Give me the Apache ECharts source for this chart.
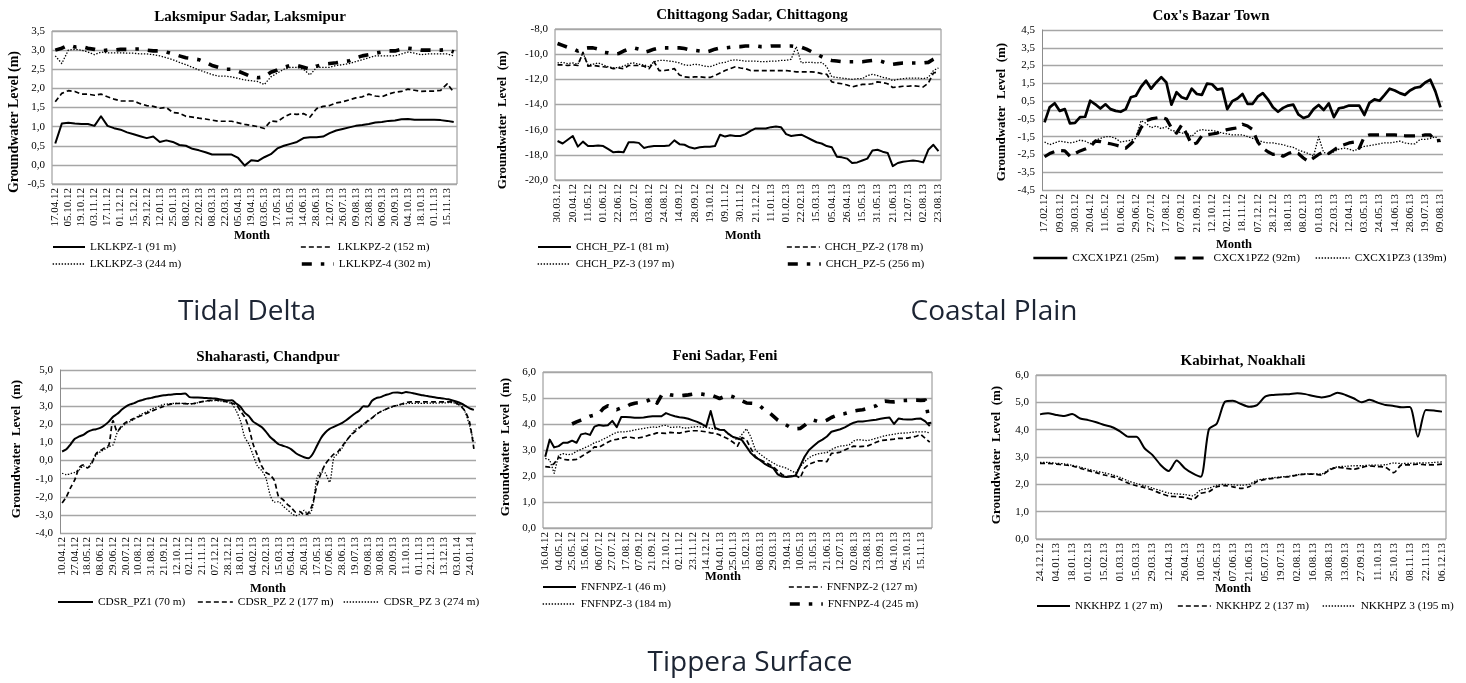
<!DOCTYPE html>
<html><head><meta charset="utf-8">
<script src="https://cdn.jsdelivr.net/npm/echarts@6/dist/echarts.min.js"></script>
<style>html,body{margin:0;padding:0;background:#fff}#c{width:1466px;height:683px}</style>
</head><body><div id="c"></div>
<script>
// ---------- Laksmipur Sadar, Laksmipur ----------
const lkTicks = ['17.04.12','05.10.12','19.10.12','03.11.12','17.11.12','01.12.12','15.12.12','29.12.12','12.01.13','25.01.13','08.02.13','22.02.13','08.03.13','22.03.13','05.04.13','19.04.13','03.05.13','17.05.13','31.05.13','14.06.13','28.06.13','12.07.13','26.07.13','09.08.13','23.08.13','06.09.13','20.09.13','04.10.13','18.10.13','01.11.13','15.11.13'];
const lk1 = [0.56,1.08,1.1,1.08,1.07,1.07,1.02,1.27,1.02,0.96, 0.92,0.85,0.8,0.75,0.7,0.74,0.6,0.64,0.6,0.52, 0.5,0.42,0.38,0.33,0.27,0.27,0.27,0.27,0.18,-0.02, 0.12,0.1,0.2,0.28,0.43,0.5,0.55,0.6,0.7,0.72, 0.72,0.74,0.83,0.9,0.94,0.98,1.02,1.04,1.07,1.11, 1.12,1.15,1.16,1.19,1.2,1.18,1.18,1.18,1.18,1.17, 1.15,1.12];
const lk2 = [1.65,1.87,1.94,1.92,1.85,1.85,1.82,1.85,1.78,1.72, 1.67,1.67,1.67,1.6,1.55,1.53,1.48,1.5,1.37,1.35, 1.27,1.25,1.22,1.2,1.17,1.14,1.14,1.14,1.1,1.06, 1.03,1.0,0.95,1.15,1.13,1.25,1.33,1.32,1.34,1.25, 1.47,1.53,1.55,1.62,1.65,1.7,1.75,1.78,1.85,1.8, 1.78,1.85,1.9,1.92,1.98,1.95,1.92,1.93,1.93,1.95, 2.12,1.9];
const lk3 = [2.85,2.65,3.0,3.02,3.0,2.95,2.88,2.95,2.93,2.93, 2.93,2.92,2.92,2.9,2.9,2.88,2.85,2.8,2.75,2.68, 2.62,2.55,2.48,2.42,2.36,2.32,2.32,2.3,2.26,2.22, 2.2,2.18,2.1,2.3,2.4,2.5,2.55,2.55,2.5,2.35, 2.55,2.55,2.55,2.6,2.62,2.65,2.7,2.75,2.8,2.85, 2.85,2.85,2.85,2.9,2.95,2.92,2.88,2.9,2.9,2.9, 2.9,2.85];
const lk4 = [3.0,3.05,3.13,3.08,3.1,3.05,3.02,2.98,3.0,3.0, 3.02,3.02,3.03,3.03,3.0,2.98,2.98,2.95,2.9,2.85, 2.8,2.78,2.75,2.68,2.6,2.55,2.5,2.5,2.45,2.38, 2.3,2.28,2.3,2.42,2.48,2.55,2.6,2.6,2.55,2.5, 2.58,2.63,2.65,2.67,2.7,2.72,2.8,2.85,2.88,2.92, 2.95,2.98,2.98,3.02,3.05,3.03,3.0,3.0,3.0,3.0, 3.02,2.95];

// ---------- Chittagong Sadar, Chittagong ----------
const chTicks = ['30.03.12','20.04.12','11.05.12','01.06.12','22.06.12','13.07.12','03.08.12','24.08.12','14.09.12','28.09.12','19.10.12','09.11.12','30.11.12','21.12.12','11.01.13','01.02.13','22.02.13','15.03.13','05.04.13','26.04.13','15.05.13','31.05.13','21.06.13','12.07.13','02.08.13','23.08.13'];
const ch1 = [-16.9,-17.1,-16.8,-16.5,-17.35,-16.95,-17.3,-17.3,-17.25,-17.3, -17.55,-17.8,-17.75,-17.8,-17.0,-17.0,-17.05,-17.45,-17.35,-17.3, -17.3,-17.3,-17.25,-16.85,-17.15,-17.2,-17.4,-17.5,-17.4,-17.35, -17.35,-17.3,-16.4,-16.55,-16.45,-16.5,-16.5,-16.35,-16.1,-15.9, -15.9,-15.9,-15.8,-15.75,-15.8,-16.35,-16.5,-16.45,-16.4,-16.6, -16.8,-17.0,-17.1,-17.3,-17.4,-18.15,-18.2,-18.3,-18.65,-18.6, -18.45,-18.3,-17.65,-17.6,-17.75,-17.85,-18.9,-18.65,-18.55,-18.5, -18.45,-18.5,-18.6,-17.6,-17.2,-17.7];
const ch2 = [-10.85,-10.85,-10.9,-10.85,-10.9,-9.85,-10.95,-10.9,-10.95,-11.0, -11.05,-11.15,-11.1,-11.15,-10.9,-10.9,-10.9,-10.95,-11.15,-10.6, -11.3,-11.3,-11.25,-11.15,-11.65,-11.8,-11.85,-11.8,-11.8,-11.85, -11.85,-11.7,-11.5,-11.3,-11.15,-11.0,-11.1,-11.15,-11.3,-11.3, -11.3,-11.3,-11.3,-11.3,-11.3,-11.3,-11.35,-11.4,-11.4,-11.4, -11.4,-11.45,-11.55,-11.6,-12.2,-12.3,-12.35,-12.45,-12.6,-12.5, -12.4,-12.4,-12.35,-12.2,-12.25,-12.35,-12.65,-12.6,-12.55,-12.55, -12.5,-12.55,-12.6,-12.3,-11.5,-11.4];
const ch3 = [-10.7,-10.65,-10.75,-10.7,-10.8,-9.9,-10.85,-10.8,-10.7,-10.85, -11.0,-11.1,-11.05,-10.95,-10.75,-10.7,-10.8,-10.85,-11.0,-10.6, -10.5,-10.5,-10.55,-10.6,-10.7,-10.85,-10.9,-10.8,-10.85,-10.95, -11.0,-10.85,-10.7,-10.65,-10.5,-10.45,-10.5,-10.55,-10.55,-10.55, -10.6,-10.6,-10.55,-10.55,-10.5,-10.5,-10.4,-9.4,-10.7,-10.65, -10.65,-10.7,-10.65,-11.0,-11.8,-11.85,-11.9,-11.95,-12.0,-11.95, -11.95,-11.7,-11.6,-11.7,-11.85,-11.9,-12.1,-12.0,-11.95,-11.9, -11.9,-11.9,-11.95,-11.85,-11.3,-11.1];
const ch5 = [-9.15,-9.3,-9.45,-9.55,-9.75,-9.55,-9.5,-9.5,-9.6,-9.85, -9.9,-10.0,-9.95,-9.75,-9.6,-9.5,-9.6,-9.85,-9.75,-9.6, -9.5,-9.5,-9.5,-9.5,-9.5,-9.55,-9.65,-9.7,-9.75,-9.85, -9.75,-9.6,-9.5,-9.5,-9.45,-9.4,-9.4,-9.35,-9.35,-9.35, -9.4,-9.4,-9.35,-9.35,-9.35,-9.35,-9.35,-9.4,-9.45,-9.6, -9.8,-10.0,-10.2,-10.4,-10.5,-10.55,-10.6,-10.6,-10.6,-10.6, -10.6,-10.55,-10.5,-10.5,-10.6,-10.75,-10.8,-10.75,-10.7,-10.7, -10.7,-10.7,-10.7,-10.65,-10.4,-10.2];

// ---------- Cox's Bazar Town ----------
const cxTicks = ['17.02.12','09.03.12','30.03.12','20.04.12','11.05.12','01.06.12','29.06.12','27.07.12','17.08.12','07.09.12','21.09.12','12.10.12','02.11.12','18.11.12','07.12.12','28.12.12','18.01.13','08.02.13','01.03.13','22.03.13','12.04.13','03.05.13','24.05.13','14.06.13','28.06.13','19.07.13','09.08.13'];
const cx1 = [-0.7,0.15,0.38,-0.05,0.05,-0.75,-0.72,-0.4,-0.38,0.52, 0.32,0.08,0.32,0.05,-0.05,-0.1,0.05,0.72,0.8,1.3, 1.65,1.2,1.55,1.85,1.55,0.3,1.0,0.72,0.62,1.2, 0.9,0.85,1.48,1.45,1.15,1.2,0.05,0.5,0.65,0.9, 0.35,0.35,0.75,0.95,0.6,0.15,-0.1,0.12,0.25,0.3, -0.25,-0.45,-0.35,0.05,0.28,0.0,0.37,-0.4,0.1,0.15, 0.25,0.25,0.25,-0.28,0.4,0.6,0.52,0.85,1.2,1.1, 0.95,0.85,1.1,1.25,1.3,1.55,1.7,1.05,0.15];
const cx2 = [-2.63,-2.45,-2.34,-2.28,-2.3,-2.6,-2.45,-2.3,-2.2,-2.08, -1.75,-1.78,-1.85,-1.9,-1.97,-2.05,-2.15,-1.9,-1.6,-1.0, -0.6,-0.5,-0.45,-0.4,-0.5,-1.0,-1.3,-0.85,-1.35,-1.95, -1.85,-1.45,-1.4,-1.35,-1.3,-1.2,-1.1,-1.05,-1.0,-0.8, -0.9,-1.1,-1.8,-2.15,-2.35,-2.5,-2.45,-2.6,-2.45,-2.35, -2.45,-2.7,-2.9,-2.7,-2.5,-2.35,-2.45,-2.25,-2.05,-1.95, -1.85,-1.8,-2.15,-1.5,-1.4,-1.4,-1.4,-1.4,-1.4,-1.4, -1.42,-1.45,-1.45,-1.45,-1.45,-1.4,-1.4,-1.75,-1.7];
const cx3 = [-1.8,-1.95,-1.85,-1.75,-1.8,-1.85,-1.8,-1.7,-1.75,-1.9, -1.7,-1.6,-1.5,-1.5,-1.6,-1.8,-1.75,-1.7,-1.6,-0.6, -0.75,-1.0,-0.9,-1.05,-0.95,-1.15,-1.2,-1.3,-1.3,-1.5, -1.2,-1.1,-1.15,-1.15,-1.2,-1.3,-1.35,-1.4,-1.4,-1.4, -1.5,-1.6,-1.7,-1.8,-1.85,-1.85,-1.9,-1.95,-2.05,-2.1, -2.25,-2.35,-2.45,-2.6,-1.5,-2.4,-2.45,-2.35,-2.2,-2.15, -2.2,-2.3,-2.15,-2.05,-2.0,-1.95,-1.9,-1.85,-1.85,-1.8, -1.75,-1.85,-1.9,-1.9,-1.65,-1.65,-1.6,-1.5,-1.8];

// ---------- Shaharasti, Chandpur ----------
const cdTicks = ['10.04.12','27.04.12','18.05.12','08.06.12','29.06.12','20.07.12','10.08.12','31.08.12','21.09.12','12.10.12','02.11.12','21.11.13','07.12.12','28.12.12','18.01.13','04.02.13','22.02.13','15.03.13','05.04.13','26.04.13','17.05.13','07.06.13','28.06.13','19.07.13','09.08.13','30.08.13','20.09.13','11.10.13','01.11.13','22.11.13','13.12.13','03.01.14','24.01.14'];
const cd1 = [0.5,0.62,0.9,1.2,1.33,1.42,1.58,1.68,1.73,1.8, 1.95,2.15,2.42,2.58,2.8,2.98,3.1,3.17,3.28,3.35, 3.42,3.46,3.52,3.57,3.61,3.63,3.65,3.67,3.68,3.7, 3.5,3.48,3.48,3.47,3.45,3.44,3.42,3.39,3.35,3.31, 3.33,3.15,2.97,2.65,2.45,2.15,2.0,1.85,1.6,1.3, 1.1,0.9,0.82,0.74,0.62,0.42,0.28,0.18,0.13,0.35, 0.8,1.25,1.55,1.75,1.86,1.97,2.08,2.24,2.42,2.6, 2.75,3.0,2.98,3.3,3.45,3.5,3.6,3.67,3.75,3.76, 3.72,3.78,3.75,3.7,3.65,3.6,3.56,3.52,3.48,3.45, 3.42,3.38,3.32,3.25,3.15,3.02,2.88,2.8];
const cd2 = [-2.35,-2.0,-1.5,-1.05,-0.4,-0.24,-0.4,-0.15,0.38,0.55, 0.7,0.85,2.2,1.6,1.9,2.1,2.22,2.33,2.42,2.52, 2.62,2.72,2.82,2.92,3.0,3.08,3.13,3.15,3.15,3.14, 3.13,3.15,3.2,3.25,3.3,3.32,3.35,3.32,3.28,3.24, 3.17,3.08,2.75,2.4,1.8,0.9,0.3,-0.3,-0.65,-0.8, -1.1,-2.0,-2.15,-2.4,-2.6,-2.85,-2.82,-3.0,-2.9,-2.4, -1.4,-0.7,-0.2,0.1,0.35,0.5,0.8,1.1,1.4,1.6, 1.8,2.0,2.2,2.35,2.55,2.7,2.8,2.92,3.0,3.05, 3.12,3.2,3.24,3.24,3.24,3.24,3.24,3.24,3.24,3.24, 3.24,3.24,3.24,3.15,2.98,2.7,2.1,0.65];
const cd3 = [-0.7,-0.78,-0.72,-0.65,-0.52,-0.3,-0.4,-0.05,0.3,0.48, 0.62,0.76,0.87,1.55,1.84,2.03,2.15,2.28,2.48,2.6, 2.7,2.83,2.93,3.02,3.1,3.13,3.15,3.16,3.16,3.15, 3.14,3.14,3.2,3.25,3.28,3.3,3.31,3.3,3.26,3.22, 3.1,2.75,2.2,1.3,0.9,0.3,-0.3,-0.55,-0.95,-1.9, -2.3,-2.27,-2.5,-2.7,-2.9,-3.05,-2.95,-2.75,-3.0,-2.6, -1.0,-0.62,-0.69,-1.2,0.15,0.4,0.7,1.1,1.4,1.7, 1.85,2.0,2.15,2.35,2.55,2.7,2.8,2.9,2.98,3.05, 3.1,3.14,3.16,3.16,3.16,3.16,3.16,3.17,3.17,3.18, 3.18,3.2,3.2,3.12,3.05,2.65,1.9,1.0];

// ---------- Feni Sadar, Feni ----------
const fnTicks = ['16.04.12','04.05.12','25.05.12','15.06.12','06.07.12','27.07.12','17.08.12','07.09.12','21.09.12','12.10.12','02.11.12','23.11.12','14.12.12','04.01.13','25.01.13','15.02.13','08.03.13','29.03.13','19.04.13','10.05.13','31.05.13','21.06.13','12.07.13','02.08.13','23.08.13','13.09.13','04.10.13','25.10.13','15.11.13'];
const fn1 = [2.74,3.4,3.1,3.15,3.28,3.28,3.36,3.28,3.6,3.64, 3.58,3.9,3.96,3.93,3.95,4.12,3.88,4.27,4.27,4.26, 4.24,4.24,4.25,4.28,4.3,4.3,4.3,4.42,4.35,4.3, 4.26,4.24,4.2,4.14,4.08,4.0,3.9,4.5,3.85,3.78, 3.77,3.62,3.5,3.45,3.38,3.13,2.88,2.72,2.62,2.48, 2.38,2.3,2.06,1.98,1.96,1.98,2.02,2.38,2.74,3.0, 3.15,3.3,3.4,3.52,3.7,3.75,3.8,3.87,3.97,4.05, 4.1,4.1,4.12,4.14,4.16,4.2,4.23,4.25,4.0,4.21, 4.18,4.17,4.17,4.2,4.21,4.1,3.92];
const fn2 = [2.36,2.34,2.48,2.72,2.64,2.62,2.62,2.64,2.74,2.85, 2.95,3.12,3.1,3.2,3.3,3.38,3.41,3.45,3.49,3.49, 3.46,3.47,3.5,3.56,3.6,3.66,3.65,3.64,3.68,3.66, 3.65,3.69,3.72,3.74,3.74,3.72,3.7,3.66,3.64,3.58, 3.5,3.42,3.3,3.15,3.48,3.4,3.05,2.75,2.62,2.55, 2.45,2.35,2.2,2.05,1.98,2.0,2.02,1.92,2.3,2.45, 2.52,2.58,2.58,2.55,2.87,2.88,2.92,3.0,3.08,3.15, 3.13,3.14,3.15,3.22,3.3,3.36,3.38,3.4,3.42,3.45, 3.45,3.46,3.49,3.53,3.6,3.45,3.3];
const fn3 = [2.68,2.62,2.1,2.8,2.86,2.82,2.84,2.95,3.02,3.1, 3.17,3.28,3.33,3.42,3.5,3.6,3.68,3.7,3.7,3.73, 3.77,3.8,3.83,3.86,3.89,3.87,3.93,3.95,3.87,3.88, 3.89,3.84,3.85,3.88,3.9,3.88,3.87,3.84,3.8,3.78, 3.77,3.6,3.5,3.38,3.6,3.82,3.5,3.0,2.85,2.72, 2.6,2.5,2.4,2.35,2.3,2.2,2.12,2.35,2.55,2.7, 2.8,2.85,2.88,2.9,3.02,3.1,3.15,3.17,3.2,3.35, 3.4,3.38,3.36,3.4,3.45,3.5,3.55,3.58,3.61,3.64, 3.65,3.66,3.68,3.7,3.7,3.7,3.66];
const fn4 = [null,null,null,null,null,null,4.0,4.08,4.15,4.22, 4.3,4.34,4.4,4.6,4.7,4.6,4.55,4.62,4.66,4.75, 4.8,4.82,4.85,4.9,5.0,4.8,5.1,5.17,5.12,5.1, 5.08,5.1,5.12,5.15,5.17,5.15,5.12,5.12,5.05,4.98, 5.05,5.1,5.05,4.95,4.89,4.81,4.8,4.79,4.7,4.55, 4.45,4.3,4.15,4.05,3.95,3.85,3.82,3.83,3.95,4.1, 4.15,4.1,4.08,4.15,4.25,4.32,4.38,4.4,4.45,4.5, 4.53,4.55,4.6,4.65,4.7,4.85,4.88,4.86,4.85,4.87, 4.9,4.91,4.92,4.92,4.91,4.92,4.0];

// ---------- Kabirhat, Noakhali ----------
const nkTicks = ['24.12.12','04.01.13','18.01.13','01.02.13','15.02.13','01.03.13','15.03.13','29.03.13','12.04.13','26.04.13','10.05.13','24.05.13','07.06.13','21.06.13','05.07.13','19.07.13','02.08.13','16.08.13','30.08.13','13.09.13','27.09.13','11.10.13','25.10.13','08.11.13','22.11.13','06.12.13'];
const nk1 = [4.56,4.6,4.54,4.5,4.57,4.41,4.35,4.27,4.17,4.09, 3.93,3.74,3.74,3.32,3.07,2.71,2.49,2.87,2.59,2.4, 2.28,4.01,4.23,5.02,5.06,4.94,4.84,4.9,5.21,5.27, 5.29,5.3,5.33,5.3,5.23,5.18,5.23,5.35,5.27,5.15, 5.0,5.09,4.99,4.9,4.87,4.82,4.83,3.74,4.72,4.7,4.66];
const nk2 = [2.77,2.77,2.74,2.71,2.67,2.59,2.5,2.43,2.34,2.28, 2.18,2.04,1.95,1.88,1.79,1.67,1.57,1.55,1.52,1.45, 1.67,1.73,1.91,1.95,1.91,1.85,1.91,2.1,2.18,2.22, 2.26,2.28,2.34,2.37,2.37,2.34,2.52,2.62,2.59,2.55, 2.62,2.67,2.65,2.62,2.43,2.71,2.71,2.74,2.71,2.71,2.74];
const nk3 = [2.8,2.8,2.77,2.75,2.7,2.63,2.55,2.48,2.42,2.35, 2.25,2.12,2.03,1.95,1.86,1.77,1.68,1.65,1.63,1.58, 1.8,1.85,1.97,2.0,1.98,1.97,2.0,2.15,2.2,2.24, 2.27,2.3,2.35,2.38,2.38,2.38,2.55,2.64,2.66,2.68, 2.68,2.7,2.7,2.72,2.78,2.76,2.77,2.78,2.78,2.8,2.82];

// ---------- layout / style ----------
const SERIF = '"Liberation Serif","Times New Roman",serif';
const SANS = '"Open Sans","Noto Sans",sans-serif';
const STYLES = {
  solid: {type:'solid', width:2},
  solidThick: {type:'solid', width:2.7},
  dash: {type:[5,3], width:1.7},
  longDash: {type:[11,7], width:3.2},
  dot: {type:[1.4,1.6], width:1.3},
  dashDot: {type:[10,9,3.5,9], width:3.6}
};

const panels = [
  { title:'Laksmipur Sadar, Laksmipur', tp:[250,17], yName:'Groundwater Level (m)', yp:[14,122], ys:14, mp:[252,236],
    grid:{left:52,top:31,width:405,height:153}, box:true, y:[-0.5,3.5,0.5], ticks:lkTicks, step:2, iw:32,
    series:[['LKLKPZ-1 (91 m)',lk1,'solid',[52,248]],['LKLKPZ-2 (152 m)',lk2,'dash',[300,248]],['LKLKPZ-3 (244 m)',lk3,'dot',[52,265]],['LKLKPZ-4 (302 m)',lk4,'dashDot',[300,265]]] },
  { title:'Chittagong Sadar, Chittagong', tp:[752,15], yName:'Groundwater  Level  (m)', yp:[503,120], ys:13, mp:[743,236],
    grid:{left:555,top:29,width:386,height:151}, box:true, y:[-20,-8,2], ticks:chTicks, step:3, iw:33,
    series:[['CHCH_PZ-1 (81 m)',ch1,'solid',[537,248]],['CHCH_PZ-2 (178 m)',ch2,'dash',[786,248]],['CHCH_PZ-3 (197 m)',ch3,'dot',[537,265]],['CHCH_PZ-5 (256 m)',ch5,'dashDot',[786,265]]] },
  { title:"Cox's Bazar Town", tp:[1211,16], yName:'Groundwater  Level  (m)', yp:[1002,112], ys:13, mp:[1234,245],
    grid:{left:1042,top:30,width:401,height:160}, box:false, zero:true, y:[-4.5,4.5,1], ticks:cxTicks, step:3, iw:34,
    series:[['CXCX1PZ1 (25m)',cx1,'solidThick',[1032,259]],['CXCX1PZ2 (92m)',cx2,'longDash',[1173,259]],['CXCX1PZ3 (139m)',cx3,'dot',[1315,259]]] },
  { title:'Shaharasti, Chandpur', tp:[268,357], yName:'Groundwater  Level  (m)', yp:[17,449], ys:13, mp:[268,589],
    grid:{left:60,top:370,width:416,height:163}, box:false, y:[-4,5,1], ticks:cdTicks, step:3, iw:35, smooth:0.25,
    series:[['CDSR_PZ1 (70 m)',cd1,'solid',[57,603]],['CDSR_PZ 2 (177 m)',cd2,'dash',[197,603]],['CDSR_PZ 3 (274 m)',cd3,'dot',[343,603]]] },
  { title:'Feni Sadar, Feni', tp:[725,356], yName:'Groundwater  Level  (m)', yp:[506,447], ys:13, mp:[723,577],
    grid:{left:543,top:372,width:389,height:156}, box:true, y:[0,6,1], ticks:fnTicks, step:3, iw:33,
    series:[['FNFNPZ-1 (46 m)',fn1,'solid',[542,588]],['FNFNPZ-2 (127 m)',fn2,'dash',[788,588]],['FNFNPZ-3 (184 m)',fn3,'dot',[542,605]],['FNFNPZ-4 (245 m)',fn4,'dashDot',[788,605]]] },
  { title:'Kabirhat, Noakhali', tp:[1243,361], yName:'Groundwater  Level  (m)', yp:[997,455], ys:13, mp:[1233,589],
    grid:{left:1036,top:375,width:410,height:164}, box:true, y:[0,6,1], ticks:nkTicks, step:2, iw:33, smooth:0.25,
    series:[['NKKHPZ 1 (27 m)',nk1,'solid',[1036,607]],['NKKHPZ 2 (137 m)',nk2,'dash',[1177,607]],['NKKHPZ 3 (195 m)',nk3,'dot',[1322,607]]] }
];

const regions = [['Tidal Delta',247,312],['Coastal Plain',994,312],['Tippera Surface',750,663]];

const option = {animation:false, backgroundColor:'#fff', grid:[], xAxis:[], yAxis:[], series:[], legend:[], graphic:[]};
const fmt = v => v.toFixed(1).replace('.', ',');

panels.forEach((p,k) => {
  const n = p.series[0][1].length;
  const cats = Array.from({length:n}, (_,i) => (i % p.step === 0 && p.ticks[i/p.step]) ? p.ticks[i/p.step] : '');
  option.grid.push(Object.assign({show:p.box, borderColor:'#8c8c8c', borderWidth:1, containLabel:false, outerBoundsMode:'none'}, p.grid));
  option.xAxis.push({type:'category', gridIndex:k, data:cats, boundaryGap:true,
    axisTick:{show:false}, axisLine:{show:false}, splitLine:{show:false},
    axisLabel:{interval:p.step-1, rotate:90, fontSize:11, fontFamily:SERIF, color:'#000', margin:4}});
  option.yAxis.push({type:'value', gridIndex:k, min:p.y[0], max:p.y[1], interval:p.y[2],
    axisLine:{show:!p.box, lineStyle:{color:'#8c8c8c', width:1}}, axisTick:{show:false},
    splitLine:{show:true, lineStyle:{color:'#a6a6a6', width:1.3}},
    axisLabel:{formatter:fmt, fontSize:11, fontFamily:SERIF, color:'#000', margin:7}});
  p.series.forEach(([name,data,st,pos],j) => {
    const s = {type:'line', name, data, xAxisIndex:k, yAxisIndex:k, symbol:'none', showSymbol:false,
      smooth:p.smooth || false, connectNulls:false, z:3,
      lineStyle:Object.assign({color:'#000', cap:'butt', join:'round'}, STYLES[st]), itemStyle:{color:'#000'}};
    if (p.zero && j === 0) {
      s.markLine = {silent:true, symbol:'none', label:{show:false}, z:1,
        lineStyle:{color:'#a6a6a6', type:'solid', width:1.3}, data:[{yAxis:0}]};
    }
    option.series.push(s);
    option.legend.push({data:[name], left:pos[0], top:pos[1]-6.5, orient:'horizontal', itemWidth:p.iw, itemHeight:12,
      itemGap:0, padding:0, selectedMode:false,
      itemStyle:{opacity:0, color:'rgba(0,0,0,0)', borderWidth:0},
      lineStyle:{color:'#000', width:STYLES[st].width, type:STYLES[st].type, cap:'butt'},
      textStyle:{fontFamily:SERIF, fontSize:11.3, color:'#000'}});
  });
  option.graphic.push({type:'text', x:p.tp[0], y:p.tp[1], silent:true,
    style:{text:p.title, font:'bold 15px ' + SERIF, fill:'#000', align:'center', verticalAlign:'middle'}});
  option.graphic.push({type:'text', x:p.yp[0], y:p.yp[1], rotation:Math.PI/2, silent:true,
    style:{text:p.yName, font:'bold ' + p.ys + 'px ' + SERIF, fill:'#000', align:'center', verticalAlign:'middle'}});
  option.graphic.push({type:'text', x:p.mp[0], y:p.mp[1], silent:true,
    style:{text:'Month', font:'bold 12.5px ' + SERIF, fill:'#000', align:'center', verticalAlign:'middle'}});
});
regions.forEach(([t,x,y]) => option.graphic.push({type:'text', x, y, silent:true,
  style:{text:t, font:'28px ' + SANS, fill:'#1c2433', align:'center', verticalAlign:'middle'}}));

const chart = echarts.init(document.getElementById('c'), null, {renderer:'canvas', width:1466, height:683});
chart.setOption(option);
</script></body></html>
